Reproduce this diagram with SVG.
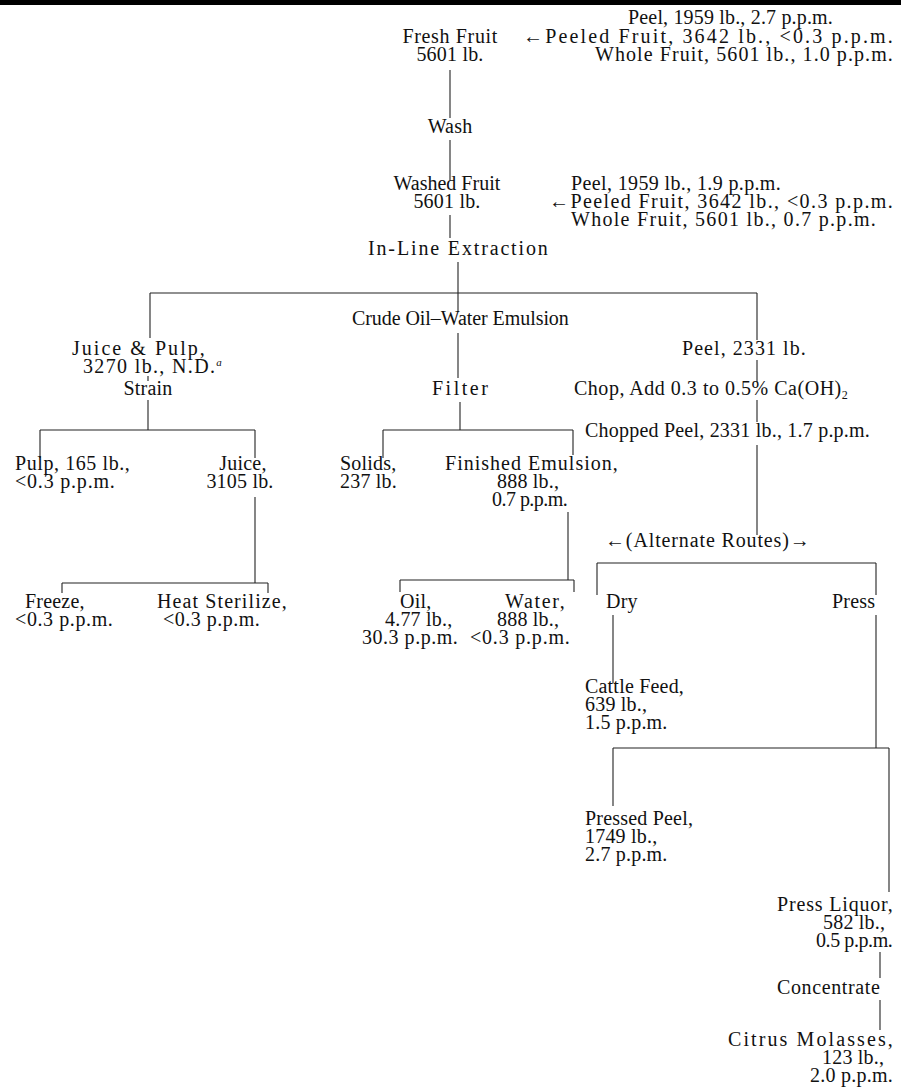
<svg xmlns="http://www.w3.org/2000/svg" width="901" height="1088" viewBox="0 0 901 1088">
<style>
text{font-family:"Liberation Serif","Times New Roman",serif;font-size:20px;fill:#111;letter-spacing:0.2px}
.m{text-anchor:middle}
.c line{stroke:#222;stroke-width:1.1}
</style>
<rect x="0" y="0" width="901" height="5" fill="#000"/>
<g class="c" id="connectors">
<line x1="450" y1="70" x2="450" y2="118"/>
<line x1="450" y1="140" x2="450" y2="180"/>
<line x1="450" y1="215" x2="450" y2="238"/>
<line x1="458" y1="262" x2="458" y2="312"/>
<line x1="150" y1="293" x2="757" y2="293"/>
<line x1="150" y1="293" x2="150" y2="338"/>
<line x1="757" y1="293" x2="757" y2="340"/>
<line x1="757" y1="360" x2="757" y2="382"/>
<line x1="458" y1="333" x2="458" y2="378"/>
<line x1="460" y1="402" x2="460" y2="430"/>
<line x1="148" y1="376" x2="148" y2="381"/>
<line x1="148" y1="400" x2="148" y2="430"/>
<line x1="40" y1="430" x2="255" y2="430"/>
<line x1="40" y1="430" x2="40" y2="458"/>
<line x1="255" y1="430" x2="255" y2="458"/>
<line x1="255" y1="497" x2="255" y2="583"/>
<line x1="62" y1="583" x2="268" y2="583"/>
<line x1="62" y1="583" x2="62" y2="593"/>
<line x1="268" y1="583" x2="268" y2="593"/>
<line x1="383" y1="430" x2="573" y2="430"/>
<line x1="383" y1="430" x2="383" y2="458"/>
<line x1="573" y1="430" x2="573" y2="455"/>
<line x1="568" y1="512" x2="568" y2="580"/>
<line x1="400" y1="580" x2="574" y2="580"/>
<line x1="400" y1="580" x2="400" y2="592"/>
<line x1="574" y1="580" x2="574" y2="592"/>
<line x1="757" y1="400" x2="757" y2="422"/>
<line x1="757" y1="445" x2="757" y2="535"/>
<line x1="597" y1="563" x2="876" y2="563"/>
<line x1="597" y1="563" x2="597" y2="595"/>
<line x1="876" y1="563" x2="876" y2="595"/>
<line x1="613" y1="615" x2="613" y2="683"/>
<line x1="876" y1="615" x2="876" y2="748"/>
<line x1="613" y1="748" x2="889" y2="748"/>
<line x1="613" y1="748" x2="613" y2="806"/>
<line x1="889" y1="748" x2="889" y2="892"/>
<line x1="880" y1="952" x2="880" y2="978"/>
<line x1="880" y1="1000" x2="880" y2="1030"/>
</g>
<g id="fresh-fruit"><text class="m" x="450" y="43" textLength="95">Fresh Fruit</text><text class="m" x="450" y="61">5601 lb.</text></g>
<g id="fresh-analysis"><text x="628" y="24" textLength="205">Peel, 1959 lb., 2.7 p.p.m.</text><text x="523" y="43" textLength="370">←Peeled Fruit, 3642 lb., &lt;0.3 p.p.m.</text><text x="595" y="61" textLength="298">Whole Fruit, 5601 lb., 1.0 p.p.m.</text></g>
<g id="wash"><text class="m" x="450" y="133">Wash</text></g>
<g id="washed-fruit"><text class="m" x="447" y="190" textLength="107">Washed Fruit</text><text class="m" x="447" y="208">5601 lb.</text></g>
<g id="washed-analysis"><text x="571" y="190" textLength="210">Peel, 1959 lb., 1.9 p.p.m.</text><text x="549" y="208" textLength="344">←Peeled Fruit, 3642 lb., &lt;0.3 p.p.m.</text><text x="571" y="226" textLength="305">Whole Fruit, 5601 lb., 0.7 p.p.m.</text></g>
<g id="extraction"><text x="368" y="255" textLength="180">In-Line Extraction</text></g>
<g id="emulsion"><text x="352" y="325" textLength="217">Crude Oil–Water Emulsion</text></g>
<g id="juice-pulp"><text x="72" y="355" textLength="133">Juice &amp; Pulp,</text><text x="83" y="373" textLength="139">3270 lb., N.D.<tspan font-size="11" font-style="italic" dy="-7">a</tspan></text></g>
<g id="peel"><text x="682" y="355" textLength="124">Peel, 2331 lb.</text></g>
<g id="strain"><text class="m" x="148" y="395">Strain</text></g>
<g id="filter"><text x="432" y="395" textLength="56">Filter</text></g>
<g id="chop"><text x="574" y="395" textLength="274">Chop, Add 0.3 to 0.5% Ca(OH)<tspan font-size="12" dy="4">2</tspan></text></g>
<g id="chopped-peel"><text x="585" y="437" textLength="285">Chopped Peel, 2331 lb., 1.7 p.p.m.</text></g>
<g id="pulp"><text x="15" y="470" textLength="115">Pulp, 165 lb.,</text><text x="15" y="488" textLength="100">&lt;0.3 p.p.m.</text></g>
<g id="juice"><text class="m" x="243" y="470">Juice,</text><text class="m" x="240" y="488">3105 lb.</text></g>
<g id="solids"><text x="340" y="470">Solids,</text><text x="340" y="488">237 lb.</text></g>
<g id="finished-emulsion"><text x="445" y="470" textLength="173">Finished Emulsion,</text><text x="497" y="488">888 lb.,</text><text x="492" y="506" textLength="76">0.7 p.p.m.</text></g>
<g id="alternate"><text x="605" y="547" textLength="205">←(Alternate Routes)→</text></g>
<g id="freeze"><text x="25" y="608">Freeze,</text><text x="15" y="626" textLength="98">&lt;0.3 p.p.m.</text></g>
<g id="heat-sterilize"><text x="157" y="608" textLength="130">Heat Sterilize,</text><text x="163" y="626" textLength="97">&lt;0.3 p.p.m.</text></g>
<g id="oil"><text x="400" y="608">Oil,</text><text x="385" y="626">4.77 lb.,</text><text x="362" y="644" textLength="96">30.3 p.p.m.</text></g>
<g id="water"><text x="505" y="608" textLength="60">Water,</text><text x="497" y="626">888 lb.,</text><text x="470" y="644" textLength="100">&lt;0.3 p.p.m.</text></g>
<g id="dry"><text x="606" y="608">Dry</text></g>
<g id="press"><text x="832" y="608">Press</text></g>
<g id="cattle-feed"><text x="585" y="693">Cattle Feed,</text><text x="585" y="711">639 lb.,</text><text x="585" y="729">1.5 p.p.m.</text></g>
<g id="pressed-peel"><text x="585" y="825">Pressed Peel,</text><text x="585" y="843">1749 lb.,</text><text x="585" y="861">2.7 p.p.m.</text></g>
<g id="press-liquor"><text x="777" y="911" textLength="116">Press Liquor,</text><text x="823" y="929">582 lb.,</text><text x="816" y="947" textLength="77">0.5 p.p.m.</text></g>
<g id="concentrate"><text x="777" y="994" textLength="103">Concentrate</text></g>
<g id="molasses"><text x="728" y="1046" textLength="165">Citrus Molasses,</text><text x="822" y="1064">123 lb.,</text><text x="810" y="1082" textLength="83">2.0 p.p.m.</text></g>
</svg>
